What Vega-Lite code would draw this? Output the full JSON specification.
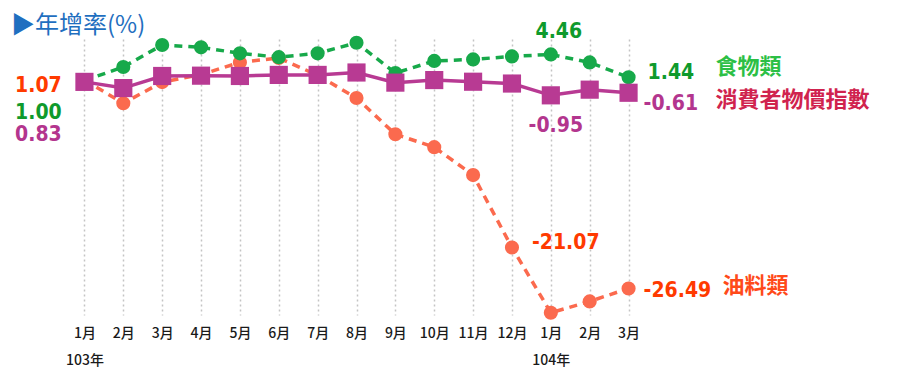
{
  "$schema": "https://vega.github.io/schema/vega-lite/v6.json",
  "autosize": {"type": "none"},
  "padding": {"left": 65, "top": 39, "right": 268, "bottom": 72},
  "width": 583,
  "height": 276,
  "background": "white",
  "config": {"view": {"stroke": null}},
  "title": {
    "text": "▶年增率(%)",
    "anchor": "start",
    "frame": "group",
    "dx": -54,
    "dy": 25,
    "offset": 8,
    "fontSize": 24,
    "font": "Noto Sans CJK TC",
    "fontWeight": "normal",
    "color": "#1f6fc0"
  },
  "data": {
    "values": [
      {"t": "103年1月", "s": "油料類", "v": 1.07},
      {"t": "103年2月", "s": "油料類", "v": -2.0},
      {"t": "103年3月", "s": "油料類", "v": 0.8},
      {"t": "103年4月", "s": "油料類", "v": 1.8},
      {"t": "103年5月", "s": "油料類", "v": 3.4},
      {"t": "103年6月", "s": "油料類", "v": 4.0},
      {"t": "103年7月", "s": "油料類", "v": 1.7},
      {"t": "103年8月", "s": "油料類", "v": -1.3},
      {"t": "103年9月", "s": "油料類", "v": -6.1},
      {"t": "103年10月", "s": "油料類", "v": -7.8},
      {"t": "103年11月", "s": "油料類", "v": -11.5},
      {"t": "103年12月", "s": "油料類", "v": -21.07},
      {"t": "104年1月", "s": "油料類", "v": -29.7},
      {"t": "104年2月", "s": "油料類", "v": -28.2},
      {"t": "104年3月", "s": "油料類", "v": -26.49},
      {"t": "103年1月", "s": "食物類", "v": 1.0},
      {"t": "103年2月", "s": "食物類", "v": 2.8},
      {"t": "103年3月", "s": "食物類", "v": 5.7},
      {"t": "103年4月", "s": "食物類", "v": 5.4},
      {"t": "103年5月", "s": "食物類", "v": 4.6},
      {"t": "103年6月", "s": "食物類", "v": 4.1},
      {"t": "103年7月", "s": "食物類", "v": 4.6},
      {"t": "103年8月", "s": "食物類", "v": 6.0},
      {"t": "103年9月", "s": "食物類", "v": 2.0},
      {"t": "103年10月", "s": "食物類", "v": 3.6},
      {"t": "103年11月", "s": "食物類", "v": 3.8},
      {"t": "103年12月", "s": "食物類", "v": 4.2},
      {"t": "104年1月", "s": "食物類", "v": 4.46},
      {"t": "104年2月", "s": "食物類", "v": 3.4},
      {"t": "104年3月", "s": "食物類", "v": 1.44},
      {"t": "103年1月", "s": "消費者物價指數", "v": 0.83},
      {"t": "103年2月", "s": "消費者物價指數", "v": 0.01},
      {"t": "103年3月", "s": "消費者物價指數", "v": 1.61},
      {"t": "103年4月", "s": "消費者物價指數", "v": 1.65},
      {"t": "103年5月", "s": "消費者物價指數", "v": 1.61},
      {"t": "103年6月", "s": "消費者物價指數", "v": 1.75},
      {"t": "103年7月", "s": "消費者物價指數", "v": 1.75},
      {"t": "103年8月", "s": "消費者物價指數", "v": 2.07},
      {"t": "103年9月", "s": "消費者物價指數", "v": 0.73},
      {"t": "103年10月", "s": "消費者物價指數", "v": 1.07},
      {"t": "103年11月", "s": "消費者物價指數", "v": 0.85},
      {"t": "103年12月", "s": "消費者物價指數", "v": 0.61},
      {"t": "104年1月", "s": "消費者物價指數", "v": -0.95},
      {"t": "104年2月", "s": "消費者物價指數", "v": -0.2},
      {"t": "104年3月", "s": "消費者物價指數", "v": -0.61}
    ]
  },
  "transform": [
    {"calculate": "replace(format(datum.v, '.2f'), '\u2212', '-')", "as": "lab"}
  ],
  "encoding": {
    "x": {
      "field": "t",
      "type": "ordinal",
      "sort": null,
      "scale": {"type": "point", "padding": 0.5},
      "axis": {
        "title": null,
        "domain": false,
        "ticks": false,
        "grid": true,
        "gridDash": [2, 3],
        "gridColor": "#c4c4c4",
        "gridWidth": 1.5,
        "labelAngle": 0,
        "labelFont": "Noto Sans CJK TC",
        "labelFontSize": 14,
        "labelFontWeight": 500,
        "labelColor": "#1a1a1a",
        "labelPadding": 11,
        "labelLineHeight": 27,
        "labelExpr": "datum.value == '103年1月' ? ['1月', '103年'] : datum.value == '104年1月' ? ['1月', '104年'] : split(datum.value, '年')[1]"
      }
    },
    "y": {
      "field": "v",
      "type": "quantitative",
      "scale": {"domain": [-30, 6.5], "nice": false, "zero": false},
      "axis": null
    }
  },
  "layer": [
    {
      "transform": [{"filter": "datum.s == '油料類'"}],
      "mark": {"type": "line", "color": "#fb6a4e", "strokeWidth": 3.5, "strokeDash": [8, 6]}
    },
    {
      "transform": [{"filter": "datum.s == '油料類'"}],
      "mark": {"type": "point", "shape": "circle", "filled": true, "opacity": 1, "size": 200, "color": "#fb6a4e"}
    },
    {
      "transform": [{"filter": "datum.s == '食物類'"}],
      "mark": {"type": "line", "color": "#17a94a", "strokeWidth": 3.5, "strokeDash": [8, 6]}
    },
    {
      "transform": [{"filter": "datum.s == '食物類'"}],
      "mark": {"type": "point", "shape": "circle", "filled": true, "opacity": 1, "size": 200, "color": "#17a94a"}
    },
    {
      "transform": [{"filter": "datum.s == '消費者物價指數'"}],
      "mark": {"type": "line", "color": "#b83a93", "strokeWidth": 3.5}
    },
    {
      "transform": [{"filter": "datum.s == '消費者物價指數'"}],
      "mark": {"type": "point", "shape": "square", "filled": true, "opacity": 1, "size": 330, "color": "#b83a93"}
    },
    {
      "transform": [{"filter": "datum.s == '油料類' && datum.t == '103年1月'"}],
      "mark": {"type": "text", "font": "DejaVu Sans Condensed", "fontWeight": "bold", "fontSize": 21, "color": "#ff3a00", "align": "center", "baseline": "middle", "dx": -46, "dy": 6},
      "encoding": {"text": {"field": "lab"}}
    },
    {
      "transform": [{"filter": "datum.s == '食物類' && datum.t == '103年1月'"}],
      "mark": {"type": "text", "font": "DejaVu Sans Condensed", "fontWeight": "bold", "fontSize": 21, "color": "#0f9a2c", "align": "center", "baseline": "middle", "dx": -46, "dy": 32},
      "encoding": {"text": {"field": "lab"}}
    },
    {
      "transform": [{"filter": "datum.s == '消費者物價指數' && datum.t == '103年1月'"}],
      "mark": {"type": "text", "font": "DejaVu Sans Condensed", "fontWeight": "bold", "fontSize": 21, "color": "#b3358e", "align": "center", "baseline": "middle", "dx": -46, "dy": 53},
      "encoding": {"text": {"field": "lab"}}
    },
    {
      "transform": [{"filter": "datum.s == '食物類' && datum.t == '104年1月'"}],
      "mark": {"type": "text", "font": "DejaVu Sans Condensed", "fontWeight": "bold", "fontSize": 21, "color": "#0f9a2c", "align": "center", "baseline": "middle", "dx": 8, "dy": -22},
      "encoding": {"text": {"field": "lab"}}
    },
    {
      "transform": [{"filter": "datum.s == '消費者物價指數' && datum.t == '104年1月'"}],
      "mark": {"type": "text", "font": "DejaVu Sans Condensed", "fontWeight": "bold", "fontSize": 21, "color": "#b3358e", "align": "center", "baseline": "middle", "dx": 5, "dy": 31},
      "encoding": {"text": {"field": "lab"}}
    },
    {
      "transform": [{"filter": "datum.s == '油料類' && datum.t == '103年12月'"}],
      "mark": {"type": "text", "font": "DejaVu Sans Condensed", "fontWeight": "bold", "fontSize": 21, "color": "#ff3a00", "align": "left", "baseline": "middle", "dx": 20, "dy": -4},
      "encoding": {"text": {"field": "lab"}}
    },
    {
      "transform": [{"filter": "datum.s == '油料類' && datum.t == '104年3月'"}],
      "mark": {"type": "text", "font": "DejaVu Sans Condensed", "fontWeight": "bold", "fontSize": 21, "color": "#ff3a00", "align": "left", "baseline": "middle", "dx": 15, "dy": 3},
      "encoding": {"text": {"field": "lab"}}
    },
    {
      "transform": [{"filter": "datum.s == '食物類' && datum.t == '104年3月'"}],
      "mark": {"type": "text", "font": "DejaVu Sans Condensed", "fontWeight": "bold", "fontSize": 21, "color": "#0f9a2c", "align": "left", "baseline": "middle", "dx": 19, "dy": -4},
      "encoding": {"text": {"field": "lab"}}
    },
    {
      "transform": [{"filter": "datum.s == '消費者物價指數' && datum.t == '104年3月'"}],
      "mark": {"type": "text", "font": "DejaVu Sans Condensed", "fontWeight": "bold", "fontSize": 21, "color": "#b3358e", "align": "left", "baseline": "middle", "dx": 15, "dy": 11},
      "encoding": {"text": {"field": "lab"}}
    },
    {
      "transform": [{"filter": "datum.s == '食物類' && datum.t == '104年3月'"}],
      "mark": {"type": "text", "font": "Noto Sans CJK TC", "fontWeight": "bold", "fontSize": 22, "color": "#2cbf45", "align": "left", "baseline": "middle", "dx": 87, "dy": -10},
      "encoding": {"text": {"field": "s"}}
    },
    {
      "transform": [{"filter": "datum.s == '消費者物價指數' && datum.t == '104年3月'"}],
      "mark": {"type": "text", "font": "Noto Sans CJK TC", "fontWeight": "bold", "fontSize": 22, "color": "#d0234e", "align": "left", "baseline": "middle", "dx": 87, "dy": 7},
      "encoding": {"text": {"field": "s"}}
    },
    {
      "transform": [{"filter": "datum.s == '油料類' && datum.t == '104年3月'"}],
      "mark": {"type": "text", "font": "Noto Sans CJK TC", "fontWeight": "bold", "fontSize": 22, "color": "#ff4a1a", "align": "left", "baseline": "middle", "dx": 94, "dy": -2},
      "encoding": {"text": {"field": "s"}}
    }
  ]
}
